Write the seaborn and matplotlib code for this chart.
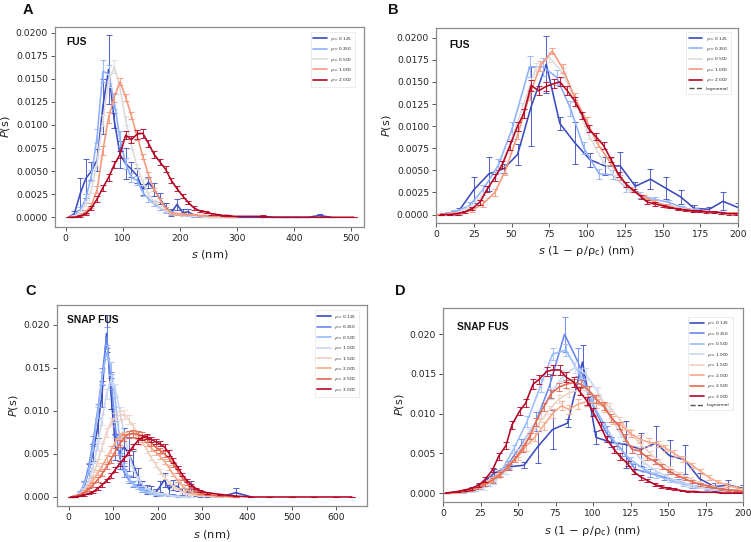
import numpy as np
import pandas as pd
import matplotlib
matplotlib.use("Agg")
import matplotlib.pyplot as plt
from matplotlib.lines import Line2D
from matplotlib.ticker import MultipleLocator
import seaborn as sns

# ---------------- Panel A (FUS, s in nm) ----------------
A_S = [5, 15, 25, 35, 45, 55, 65, 75, 85, 95, 105, 115, 125, 135, 145, 155, 165, 175, 185, 195,
       205, 215, 225, 235, 245, 255, 265, 275, 285, 295, 305, 325, 345, 365, 385, 405, 425, 445,
       465, 485, 505]
A_RHO = ["0.125", "0.250", "0.500", "1.000", "2.000"]
A_P0125 = [0.0000, 0.0004, 0.0025, 0.0042, 0.0050, 0.0062, 0.0120, 0.0160, 0.0105, 0.0068, 0.0058,
           0.0052, 0.0045, 0.0030, 0.0038, 0.0030, 0.0020, 0.0011, 0.0005, 0.0014, 0.0005, 0.0006,
           0.0002, 0.0001, 0.0001, 0.0000, 0.0000, 0.0000, 0.0000, 0.0000, 0.0000, 0.0000, 0.0000,
           0.0000, 0.0000, 0.0000, 0.0000, 0.0002, 0.0000]
A_E0125 = [0.0000, 0.0003, 0.0017, 0.0021, 0.0010, 0.0012, 0.0030, 0.0037, 0.0008, 0.0015, 0.0017,
           0.0008, 0.0008, 0.0006, 0.0006, 0.0007, 0.0006, 0.0005, 0.0004, 0.0006, 0.0004, 0.0003,
           0.0002, 0.0001, 0.0001, 0.0000, 0.0000, 0.0000, 0.0000, 0.0000, 0.0000, 0.0000, 0.0000,
           0.0000, 0.0000, 0.0000, 0.0000, 0.0002, 0.0000]
A_P025 = [0.0000, 0.0002, 0.0008, 0.0020, 0.0045, 0.0088, 0.0158, 0.0155, 0.0125, 0.0085, 0.0058,
          0.0043, 0.0040, 0.0027, 0.0020, 0.0015, 0.0010, 0.0007, 0.0005, 0.0004, 0.0003, 0.0002,
          0.0001, 0.0001, 0.0000, 0.0000]
A_E025 = [0.0000, 0.0001, 0.0003, 0.0005, 0.0006, 0.0008, 0.0012, 0.0010, 0.0008, 0.0008, 0.0006,
          0.0005, 0.0005, 0.0004, 0.0003, 0.0003, 0.0002, 0.0002, 0.0002, 0.0001, 0.0001, 0.0001,
          0.0001, 0.0001, 0.0000, 0.0000]
A_P05 = [0.0000, 0.0001, 0.0005, 0.0015, 0.0030, 0.0060, 0.0105, 0.0148, 0.0163, 0.0140, 0.0105,
         0.0078, 0.0055, 0.0038, 0.0025, 0.0017, 0.0011, 0.0007, 0.0005, 0.0003, 0.0002, 0.0002,
         0.0001, 0.0001, 0.0000, 0.0000, 0.0000, 0.0000]
A_E05 = [0.0000, 0.0001, 0.0002, 0.0003, 0.0004, 0.0005, 0.0006, 0.0007, 0.0007, 0.0006, 0.0005,
         0.0004, 0.0003, 0.0003, 0.0002, 0.0002, 0.0001, 0.0001, 0.0001, 0.0001, 0.0001, 0.0000,
         0.0000, 0.0000, 0.0000, 0.0000, 0.0000, 0.0000]
A_P10 = [0.0000, 0.0000, 0.0002, 0.0006, 0.0013, 0.0030, 0.0072, 0.0108, 0.0130, 0.0147, 0.0130,
         0.0110, 0.0088, 0.0066, 0.0046, 0.0030, 0.0019, 0.0010, 0.0005, 0.0004, 0.0004, 0.0003,
         0.0003, 0.0002, 0.0002, 0.0001, 0.0001, 0.0001, 0.0000, 0.0000]
A_E10 = [0.0000, 0.0000, 0.0001, 0.0002, 0.0003, 0.0004, 0.0005, 0.0006, 0.0005, 0.0004, 0.0004,
         0.0004, 0.0004, 0.0003, 0.0003, 0.0002, 0.0002, 0.0001, 0.0001, 0.0001, 0.0001, 0.0001,
         0.0001, 0.0001, 0.0000, 0.0000, 0.0000, 0.0000, 0.0000, 0.0000]
A_P20 = [0.0000, 0.0000, 0.0001, 0.0004, 0.0010, 0.0020, 0.0032, 0.0043, 0.0057, 0.0068, 0.0089,
         0.0084, 0.0090, 0.0091, 0.0080, 0.0068, 0.0060, 0.0052, 0.0040, 0.0031, 0.0023, 0.0016,
         0.0010, 0.0007, 0.0006, 0.0004, 0.0003, 0.0002, 0.0002, 0.0001, 0.0001, 0.0001, 0.0001,
         0.0000, 0.0000, 0.0000, 0.0000, 0.0000, 0.0000, 0.0000, 0.0000]
A_E20 = [0.0000, 0.0000, 0.0001, 0.0001, 0.0002, 0.0003, 0.0003, 0.0004, 0.0004, 0.0004, 0.0004,
         0.0004, 0.0005, 0.0005, 0.0004, 0.0004, 0.0003, 0.0003, 0.0003, 0.0003, 0.0002, 0.0002,
         0.0002, 0.0001, 0.0001, 0.0001, 0.0001, 0.0001, 0.0001, 0.0000, 0.0000, 0.0000, 0.0001,
         0.0000, 0.0000, 0.0000, 0.0000, 0.0000, 0.0000, 0.0000, 0.0000]

# ---------------- Panel B (FUS, rescaled) ----------------
B_S0125 = [3, 15, 25, 35, 45, 54, 63, 73, 82, 92, 102, 112, 122, 132, 142, 152, 162, 171, 181, 190, 200]
B_P0125 = [0.0000, 0.0004, 0.0028, 0.0046, 0.0052, 0.0068, 0.0122, 0.0170, 0.0103, 0.0081, 0.0062,
           0.0055, 0.0055, 0.0032, 0.0040, 0.0030, 0.0020, 0.0007, 0.0006, 0.0015, 0.0008]
B_E0125 = [0.0000, 0.0004, 0.0015, 0.0019, 0.0005, 0.0012, 0.0045, 0.0032, 0.0007, 0.0024, 0.0008,
           0.0010, 0.0016, 0.0005, 0.0011, 0.0012, 0.0008, 0.0004, 0.0003, 0.0010, 0.0005]
B_S025 = [3, 12, 22, 31, 41, 50, 62, 71, 80, 89, 98, 108, 117, 126, 135, 145, 154, 163, 172, 182, 191, 200]
B_P025 = [0.0000, 0.0003, 0.0010, 0.0028, 0.0055, 0.0095, 0.0167, 0.0167, 0.0155, 0.0120, 0.0075,
          0.0046, 0.0045, 0.0030, 0.0022, 0.0017, 0.0014, 0.0008, 0.0005, 0.0003, 0.0002, 0.0002]
B_E025 = [0.0000, 0.0002, 0.0004, 0.0006, 0.0008, 0.0010, 0.0012, 0.0010, 0.0008, 0.0008, 0.0007,
          0.0006, 0.0005, 0.0004, 0.0003, 0.0003, 0.0003, 0.0002, 0.0002, 0.0001, 0.0001, 0.0001]
B_S05 = [4, 13, 22, 31, 40, 48, 57, 66, 75, 84, 93, 101, 110, 119, 128, 137, 145, 154, 163, 172, 180, 189, 198]
B_P05 = [0.0000, 0.0002, 0.0008, 0.0022, 0.0045, 0.0075, 0.0120, 0.0165, 0.0178, 0.0160, 0.0125,
         0.0090, 0.0062, 0.0042, 0.0028, 0.0020, 0.0014, 0.0010, 0.0007, 0.0004, 0.0003, 0.0002, 0.0001]
B_E05 = [0.0000, 0.0001, 0.0002, 0.0003, 0.0004, 0.0005, 0.0006, 0.0006, 0.0006, 0.0006, 0.0005,
         0.0005, 0.0004, 0.0003, 0.0003, 0.0002, 0.0002, 0.0002, 0.0001, 0.0001, 0.0001, 0.0001, 0.0001]
B_S10 = [1, 8, 16, 24, 31, 39, 46, 54, 62, 69, 77, 84, 92, 100, 107, 115, 122, 130, 138, 145, 153,
         160, 168, 176, 183, 191, 198]
B_P10 = [0.0000, 0.0001, 0.0002, 0.0005, 0.0012, 0.0025, 0.0050, 0.0090, 0.0135, 0.0168, 0.0185,
         0.0165, 0.0132, 0.0105, 0.0080, 0.0060, 0.0042, 0.0028, 0.0020, 0.0014, 0.0010, 0.0007,
         0.0005, 0.0004, 0.0003, 0.0002, 0.0002]
B_E10 = [0.0000, 0.0001, 0.0001, 0.0002, 0.0003, 0.0004, 0.0005, 0.0005, 0.0006, 0.0006, 0.0003,
         0.0005, 0.0005, 0.0005, 0.0004, 0.0004, 0.0003, 0.0003, 0.0002, 0.0002, 0.0002, 0.0001,
         0.0001, 0.0001, 0.0001, 0.0001, 0.0001]
B_S20 = [3, 9, 14, 19, 24, 29, 34, 39, 44, 49, 54, 58, 63, 68, 73, 78, 82, 87, 92, 97, 101, 106,
         111, 116, 121, 126, 131, 136, 140, 145, 150, 155, 160, 165, 170, 174, 179, 184, 189, 194, 199]
B_P20 = [0.0000, 0.0000, 0.0001, 0.0003, 0.0007, 0.0014, 0.0029, 0.0042, 0.0057, 0.0078, 0.0100,
         0.0114, 0.0146, 0.0140, 0.0145, 0.0148, 0.0150, 0.0140, 0.0128, 0.0112, 0.0097, 0.0088,
         0.0078, 0.0062, 0.0045, 0.0034, 0.0027, 0.0020, 0.0014, 0.0012, 0.0010, 0.0008, 0.0006,
         0.0005, 0.0004, 0.0004, 0.0003, 0.0003, 0.0002, 0.0001, 0.0001]
B_E20 = [0.0000, 0.0000, 0.0001, 0.0001, 0.0002, 0.0003, 0.0003, 0.0004, 0.0004, 0.0005, 0.0005,
         0.0005, 0.0006, 0.0005, 0.0005, 0.0005, 0.0005, 0.0005, 0.0005, 0.0004, 0.0004, 0.0004,
         0.0004, 0.0003, 0.0003, 0.0003, 0.0002, 0.0002, 0.0002, 0.0002, 0.0001, 0.0001, 0.0001,
         0.0001, 0.0001, 0.0001, 0.0001, 0.0001, 0.0001, 0.0001, 0.0001]

# ---------------- Panel C (SNAP FUS, s in nm) ----------------
C_S = [5, 15, 25, 35, 45, 55, 65, 75, 85, 95, 105, 115, 125, 135, 145, 155, 165, 175, 185, 195,
       205, 215, 225, 235, 245, 255, 265, 275, 285, 295, 310, 340, 375, 410, 450, 500, 550, 600, 635]
C_RHO = ["0.125", "0.250", "0.500", "1.000", "1.500", "2.000", "2.500", "3.000"]
C_P0125 = [0.0000, 0.0001, 0.0004, 0.0012, 0.0030, 0.0052, 0.0080, 0.0120, 0.0190, 0.0120, 0.0058,
           0.0052, 0.0058, 0.0050, 0.0038, 0.0024, 0.0012, 0.0009, 0.0008, 0.0005, 0.0012, 0.0020,
           0.0009, 0.0014, 0.0012, 0.0006, 0.0005, 0.0012, 0.0004, 0.0002, 0.0001, 0.0000, 0.0005, 0.0000]
C_E0125 = [0.0000, 0.0001, 0.0003, 0.0005, 0.0008, 0.0010, 0.0012, 0.0015, 0.0022, 0.0018, 0.0015,
           0.0020, 0.0022, 0.0020, 0.0015, 0.0010, 0.0006, 0.0005, 0.0005, 0.0004, 0.0006, 0.0008,
           0.0005, 0.0006, 0.0005, 0.0004, 0.0004, 0.0006, 0.0003, 0.0002, 0.0001, 0.0000, 0.0005, 0.0000]
C_P025 = [0.0000, 0.0001, 0.0005, 0.0015, 0.0035, 0.0065, 0.0100, 0.0140, 0.0185, 0.0135, 0.0080,
          0.0045, 0.0028, 0.0020, 0.0015, 0.0012, 0.0010, 0.0008, 0.0006, 0.0005, 0.0004, 0.0003,
          0.0002, 0.0002, 0.0001, 0.0001, 0.0000]
C_E025 = [0.0000, 0.0001, 0.0002, 0.0004, 0.0005, 0.0006, 0.0008, 0.0010, 0.0012, 0.0010, 0.0008,
          0.0006, 0.0005, 0.0004, 0.0003, 0.0003, 0.0002, 0.0002, 0.0002, 0.0001, 0.0001, 0.0001,
          0.0001, 0.0001, 0.0000, 0.0000, 0.0000]
C_P05 = [0.0000, 0.0001, 0.0005, 0.0014, 0.0030, 0.0058, 0.0098, 0.0138, 0.0168, 0.0150, 0.0110,
         0.0065, 0.0035, 0.0022, 0.0015, 0.0011, 0.0008, 0.0006, 0.0004, 0.0003, 0.0002, 0.0002,
         0.0001, 0.0001, 0.0000, 0.0000, 0.0000]
C_E05 = [0.0000, 0.0001, 0.0002, 0.0003, 0.0004, 0.0005, 0.0006, 0.0007, 0.0008, 0.0007, 0.0006,
         0.0005, 0.0004, 0.0003, 0.0002, 0.0002, 0.0002, 0.0001, 0.0001, 0.0001, 0.0001, 0.0000,
         0.0000, 0.0000, 0.0000, 0.0000, 0.0000]
C_P10 = [0.0000, 0.0001, 0.0003, 0.0008, 0.0018, 0.0035, 0.0060, 0.0090, 0.0120, 0.0136, 0.0125,
         0.0100, 0.0072, 0.0050, 0.0033, 0.0022, 0.0015, 0.0010, 0.0007, 0.0005, 0.0004, 0.0003,
         0.0002, 0.0001, 0.0001, 0.0000, 0.0000, 0.0000]
C_E10 = [0.0000, 0.0001, 0.0002, 0.0003, 0.0004, 0.0004, 0.0005, 0.0006, 0.0006, 0.0006, 0.0006,
         0.0005, 0.0004, 0.0003, 0.0003, 0.0002, 0.0002, 0.0001, 0.0001, 0.0001, 0.0001, 0.0000,
         0.0000, 0.0000, 0.0000, 0.0000, 0.0000, 0.0000]
C_P15 = [0.0000, 0.0001, 0.0003, 0.0007, 0.0014, 0.0025, 0.0040, 0.0058, 0.0075, 0.0087, 0.0092,
         0.0095, 0.0096, 0.0090, 0.0082, 0.0073, 0.0064, 0.0055, 0.0046, 0.0038, 0.0030, 0.0023,
         0.0017, 0.0012, 0.0009, 0.0006, 0.0004, 0.0003, 0.0002, 0.0001, 0.0001, 0.0000]
C_E15 = [0.0000, 0.0001, 0.0001, 0.0002, 0.0003, 0.0004, 0.0004, 0.0005, 0.0005, 0.0005, 0.0005,
         0.0005, 0.0005, 0.0005, 0.0004, 0.0004, 0.0004, 0.0004, 0.0003, 0.0003, 0.0003, 0.0002,
         0.0002, 0.0002, 0.0001, 0.0001, 0.0001, 0.0001, 0.0000, 0.0000, 0.0000, 0.0000]
C_P20 = [0.0000, 0.0001, 0.0003, 0.0006, 0.0012, 0.0020, 0.0028, 0.0036, 0.0045, 0.0055, 0.0064,
         0.0070, 0.0072, 0.0073, 0.0073, 0.0071, 0.0068, 0.0063, 0.0057, 0.0052, 0.0047, 0.0041,
         0.0034, 0.0026, 0.0019, 0.0013, 0.0009, 0.0006, 0.0004, 0.0003, 0.0002, 0.0001, 0.0000]
C_E20 = [0.0000, 0.0001, 0.0001, 0.0002, 0.0002, 0.0003, 0.0003, 0.0004, 0.0004, 0.0004, 0.0004,
         0.0004, 0.0004, 0.0004, 0.0004, 0.0004, 0.0004, 0.0004, 0.0004, 0.0003, 0.0003, 0.0003,
         0.0003, 0.0002, 0.0002, 0.0002, 0.0001, 0.0001, 0.0001, 0.0001, 0.0000, 0.0000, 0.0000]
C_P25 = [0.0000, 0.0001, 0.0002, 0.0005, 0.0009, 0.0014, 0.0020, 0.0027, 0.0035, 0.0044, 0.0053,
         0.0062, 0.0069, 0.0073, 0.0074, 0.0073, 0.0071, 0.0068, 0.0063, 0.0058, 0.0054, 0.0050,
         0.0045, 0.0038, 0.0030, 0.0022, 0.0016, 0.0011, 0.0007, 0.0005, 0.0003, 0.0001, 0.0000]
C_E25 = [0.0000, 0.0000, 0.0001, 0.0001, 0.0002, 0.0002, 0.0003, 0.0003, 0.0003, 0.0004, 0.0004,
         0.0004, 0.0004, 0.0004, 0.0004, 0.0004, 0.0004, 0.0004, 0.0004, 0.0003, 0.0003, 0.0003,
         0.0003, 0.0003, 0.0002, 0.0002, 0.0002, 0.0001, 0.0001, 0.0001, 0.0001, 0.0000, 0.0000]
C_P30 = [0.0000, 0.0000, 0.0001, 0.0002, 0.0004, 0.0006, 0.0010, 0.0014, 0.0019, 0.0025, 0.0032,
         0.0039, 0.0045, 0.0052, 0.0059, 0.0065, 0.0069, 0.0070, 0.0067, 0.0064, 0.0062, 0.0058,
         0.0051, 0.0042, 0.0034, 0.0026, 0.0019, 0.0014, 0.0010, 0.0007, 0.0005, 0.0003, 0.0001,
         0.0000, 0.0000, 0.0000, 0.0000, 0.0000, 0.0000]
C_E30 = [0.0000, 0.0000, 0.0000, 0.0001, 0.0001, 0.0001, 0.0002, 0.0002, 0.0002, 0.0003, 0.0003,
         0.0003, 0.0003, 0.0003, 0.0003, 0.0003, 0.0003, 0.0003, 0.0003, 0.0003, 0.0003, 0.0003,
         0.0003, 0.0003, 0.0002, 0.0002, 0.0002, 0.0001, 0.0001, 0.0001, 0.0001, 0.0001, 0.0000,
         0.0000, 0.0000, 0.0000, 0.0000, 0.0000, 0.0000]

# ---------------- Panel D (SNAP FUS, rescaled) ----------------
D_S0125 = [4, 14, 24, 34, 44, 54, 63, 73, 83, 93, 102, 112, 122, 132, 142, 151, 161, 171, 181, 190, 200]
D_P0125 = [0.0000, 0.0002, 0.0008, 0.0025, 0.0033, 0.0035, 0.0058, 0.0080, 0.0088, 0.0165, 0.0070,
           0.0064, 0.0061, 0.0055, 0.0063, 0.0047, 0.0042, 0.0018, 0.0008, 0.0010, 0.0006]
D_E0125 = [0.0000, 0.0001, 0.0003, 0.0005, 0.0004, 0.0004, 0.0020, 0.0025, 0.0005, 0.0022, 0.0008,
           0.0006, 0.0030, 0.0021, 0.0021, 0.0020, 0.0018, 0.0007, 0.0005, 0.0006, 0.0004]
D_S025 = [5, 14, 24, 33, 43, 52, 62, 71, 81, 90, 100, 109, 119, 128, 138, 147, 157, 166, 176, 185, 195]
D_P025 = [0.0000, 0.0002, 0.0007, 0.0018, 0.0035, 0.0060, 0.0090, 0.0135, 0.0200, 0.0165, 0.0110,
          0.0075, 0.0055, 0.0030, 0.0025, 0.0020, 0.0015, 0.0009, 0.0006, 0.0004, 0.0003]
D_E025 = [0.0000, 0.0001, 0.0002, 0.0004, 0.0005, 0.0008, 0.0012, 0.0015, 0.0022, 0.0018, 0.0012,
          0.0010, 0.0008, 0.0006, 0.0005, 0.0004, 0.0003, 0.0003, 0.0002, 0.0002, 0.0002]
D_S05 = [4, 13, 21, 30, 39, 47, 56, 65, 73, 82, 91, 99, 108, 116, 125, 134, 142, 151, 160, 168, 177, 185, 194]
D_P05 = [0.0000, 0.0001, 0.0004, 0.0012, 0.0028, 0.0055, 0.0090, 0.0135, 0.0175, 0.0180, 0.0150,
         0.0115, 0.0085, 0.0060, 0.0042, 0.0030, 0.0022, 0.0016, 0.0011, 0.0008, 0.0005, 0.0004, 0.0003]
D_E05 = [0.0000, 0.0001, 0.0002, 0.0003, 0.0004, 0.0005, 0.0007, 0.0008, 0.0008, 0.0008, 0.0007,
         0.0006, 0.0005, 0.0004, 0.0004, 0.0003, 0.0003, 0.0002, 0.0002, 0.0002, 0.0001, 0.0001, 0.0001]
D_S10 = [4, 11, 19, 27, 34, 42, 50, 57, 65, 72, 80, 88, 95, 103, 111, 118, 126, 133, 141, 149, 156,
         164, 172, 179, 187, 194]
D_P10 = [0.0000, 0.0001, 0.0002, 0.0006, 0.0014, 0.0028, 0.0050, 0.0075, 0.0100, 0.0125, 0.0148,
         0.0158, 0.0150, 0.0128, 0.0100, 0.0075, 0.0055, 0.0040, 0.0029, 0.0021, 0.0015, 0.0010,
         0.0007, 0.0005, 0.0003, 0.0002]
D_E10 = [0.0000, 0.0001, 0.0001, 0.0002, 0.0003, 0.0004, 0.0005, 0.0006, 0.0006, 0.0007, 0.0007,
         0.0007, 0.0007, 0.0006, 0.0006, 0.0005, 0.0004, 0.0004, 0.0003, 0.0003, 0.0002, 0.0002,
         0.0001, 0.0001, 0.0001, 0.0001]
D_S15 = [3, 10, 17, 24, 30, 37, 44, 50, 57, 64, 71, 77, 84, 91, 97, 104, 111, 118, 124, 131, 138,
         144, 151, 158, 165, 171, 178, 185, 192, 198]
D_P15 = [0.0000, 0.0001, 0.0003, 0.0007, 0.0013, 0.0022, 0.0035, 0.0050, 0.0068, 0.0088, 0.0105,
         0.0118, 0.0126, 0.0130, 0.0128, 0.0120, 0.0108, 0.0092, 0.0077, 0.0063, 0.0050, 0.0040,
         0.0031, 0.0024, 0.0018, 0.0013, 0.0009, 0.0006, 0.0004, 0.0003]
D_E15 = [0.0000, 0.0001, 0.0001, 0.0002, 0.0003, 0.0003, 0.0004, 0.0004, 0.0005, 0.0005, 0.0005,
         0.0005, 0.0005, 0.0005, 0.0005, 0.0005, 0.0005, 0.0004, 0.0004, 0.0004, 0.0003, 0.0003,
         0.0003, 0.0002, 0.0002, 0.0002, 0.0001, 0.0001, 0.0001, 0.0001]
D_S20 = [3, 9, 15, 20, 26, 32, 38, 44, 50, 55, 61, 67, 73, 79, 84, 90, 96, 102, 108, 113, 119, 125,
         131, 137, 143, 148, 154, 160, 166, 172, 177, 183, 189, 195, 200]
D_P20 = [0.0000, 0.0001, 0.0003, 0.0006, 0.0011, 0.0017, 0.0025, 0.0035, 0.0046, 0.0058, 0.0070,
         0.0085, 0.0100, 0.0110, 0.0105, 0.0112, 0.0115, 0.0113, 0.0108, 0.0092, 0.0085, 0.0075,
         0.0068, 0.0064, 0.0062, 0.0057, 0.0050, 0.0043, 0.0035, 0.0027, 0.0020, 0.0014, 0.0010,
         0.0007, 0.0005]
D_E20 = [0.0000, 0.0001, 0.0001, 0.0002, 0.0002, 0.0003, 0.0003, 0.0004, 0.0004, 0.0005, 0.0005,
         0.0005, 0.0006, 0.0006, 0.0006, 0.0006, 0.0006, 0.0006, 0.0006, 0.0005, 0.0005, 0.0005,
         0.0005, 0.0005, 0.0004, 0.0004, 0.0004, 0.0004, 0.0003, 0.0003, 0.0003, 0.0002, 0.0002,
         0.0002, 0.0001]
D_S25 = [3, 8, 13, 18, 23, 28, 33, 38, 43, 48, 53, 58, 62, 67, 72, 77, 82, 87, 92, 97, 102, 107,
         112, 117, 121, 126, 131, 136, 141, 146, 151, 156, 161, 166, 171, 176, 180, 185, 190, 195, 200]
D_P25 = [0.0000, 0.0001, 0.0002, 0.0004, 0.0007, 0.0011, 0.0016, 0.0023, 0.0032, 0.0043, 0.0056,
         0.0072, 0.0090, 0.0108, 0.0125, 0.0133, 0.0137, 0.0139, 0.0137, 0.0130, 0.0118, 0.0110,
         0.0095, 0.0085, 0.0070, 0.0055, 0.0053, 0.0045, 0.0040, 0.0033, 0.0027, 0.0022, 0.0018,
         0.0014, 0.0011, 0.0009, 0.0007, 0.0005, 0.0004, 0.0003, 0.0002]
D_E25 = [0.0000, 0.0000, 0.0001, 0.0001, 0.0002, 0.0002, 0.0003, 0.0003, 0.0003, 0.0004, 0.0004,
         0.0004, 0.0005, 0.0005, 0.0005, 0.0005, 0.0005, 0.0005, 0.0005, 0.0005, 0.0005, 0.0005,
         0.0005, 0.0004, 0.0004, 0.0004, 0.0004, 0.0003, 0.0003, 0.0003, 0.0003, 0.0002, 0.0002,
         0.0002, 0.0002, 0.0001, 0.0001, 0.0001, 0.0001, 0.0001, 0.0001]
D_S30 = [1.5, 6, 10, 15, 19, 24, 28, 33, 37, 42, 46, 51, 55, 60, 64, 69, 73, 78, 82, 87, 91, 96,
         100, 105, 109, 114, 118, 123, 127, 132, 136, 141, 145, 150, 154, 159, 163, 168, 172, 177,
         181, 186, 190, 195, 199]
D_P30 = [0.0000, 0.0001, 0.0002, 0.0004, 0.0006, 0.0010, 0.0017, 0.0029, 0.0046, 0.0060, 0.0086,
         0.0103, 0.0113, 0.0137, 0.0143, 0.0153, 0.0155, 0.0155, 0.0146, 0.0140, 0.0128, 0.0116,
         0.0102, 0.0084, 0.0068, 0.0055, 0.0046, 0.0037, 0.0027, 0.0020, 0.0016, 0.0011, 0.0008,
         0.0006, 0.0005, 0.0003, 0.0002, 0.0002, 0.0001, 0.0001, 0.0001, 0.0000, 0.0000, 0.0000, 0.0000]
D_E30 = [0.0000, 0.0000, 0.0001, 0.0001, 0.0002, 0.0002, 0.0003, 0.0003, 0.0004, 0.0004, 0.0005,
         0.0005, 0.0005, 0.0006, 0.0006, 0.0006, 0.0006, 0.0006, 0.0006, 0.0006, 0.0005, 0.0005,
         0.0005, 0.0005, 0.0004, 0.0004, 0.0004, 0.0003, 0.0003, 0.0003, 0.0002, 0.0002, 0.0002,
         0.0001, 0.0001, 0.0001, 0.0001, 0.0001, 0.0000, 0.0000, 0.0000, 0.0000, 0.0000, 0.0000, 0.0000]

# ---------------- style ----------------
sns.set_theme(style="white")
plt.rcParams["font.family"] = ["DejaVu Sans"]
plt.rcParams["mathtext.fontset"] = "dejavusans"

cmap = sns.color_palette("coolwarm", as_cmap=True)
COLORS5 = [cmap(v) for v in np.linspace(0, 1, 5)]
COLORS8 = [cmap(v) for v in np.linspace(0, 1, 8)]

fig = plt.figure(figsize=(7.51, 5.42), dpi=100)
axA = fig.add_axes([0.0732, 0.5812, 0.4115, 0.3690])
axB = fig.add_axes([0.5806, 0.5886, 0.4021, 0.3598])
axC = fig.add_axes([0.0759, 0.0664, 0.4128, 0.3708])
axD = fig.add_axes([0.5899, 0.0738, 0.3995, 0.3579])

SPINE = "#8c8c8c"


def draw_series(ax, xs, ps, es, color):
    n = min(len(xs), len(ps))
    df = pd.DataFrame({"s": xs[:n], "P": ps[:n]})
    sns.lineplot(data=df, x="s", y="P", ax=ax, color=color, lw=1.15,
                 estimator=None, sort=False, legend=False)
    m = min(n, len(es))
    ax.errorbar(xs[:m], ps[:m], yerr=es[:m], fmt="none", ecolor=color,
                elinewidth=0.75, capsize=2.0, capthick=0.75, alpha=0.85)


def style_axis(ax, xlabel, xlim, ylim, ymajor, xmajor, title, tx, ty, rhos, colors,
               lognormal, legbox):
    ax.set_xlim(*xlim)
    ax.set_ylim(*ylim)
    ax.yaxis.set_major_locator(MultipleLocator(ymajor))
    ax.xaxis.set_major_locator(MultipleLocator(xmajor))
    for sp in ax.spines.values():
        sp.set_color(SPINE)
        sp.set_linewidth(0.9)
    ax.tick_params(axis="both", which="major", direction="out", length=3, width=0.7,
                   color="#555555", labelsize=6.6, labelcolor="#222222", pad=2,
                   left=True, bottom=True)
    ax.set_xlabel(xlabel, fontsize=8.2, color="#222222", labelpad=4)
    ax.set_ylabel("$P$(s)", fontsize=8.2, color="#222222", labelpad=3)
    ax.text(tx, ty, title, transform=ax.transAxes, ha="left", va="top",
            fontsize=7.4, fontweight="bold", family="Liberation Sans", color="#111111")
    handles = [Line2D([0], [0], color=c, lw=1.2) for c in colors]
    labels = [r"$\rho = $" + r for r in rhos]
    if lognormal:
        handles.append(Line2D([0], [0], color="#555555", lw=1.0, ls="--"))
        labels.append("Lognormal")
    leg = ax.legend(handles, labels, loc="upper right", bbox_to_anchor=legbox,
                    fontsize=3.2, frameon=True, handlelength=3.0, handletextpad=0.8,
                    labelspacing=0.55, borderpad=0.6, borderaxespad=0.0, fancybox=False)
    leg.get_frame().set_edgecolor("#dddddd")
    leg.get_frame().set_linewidth(0.5)


# Panel A
A_SERIES = [(A_P0125, A_E0125), (A_P025, A_E025), (A_P05, A_E05), (A_P10, A_E10), (A_P20, A_E20)]
for (p, e), c in zip(A_SERIES, COLORS5):
    draw_series(axA, A_S, p, e, c)
style_axis(axA, "$s$ (nm)", (-19, 523), (-0.00105, 0.0206), 0.0025, 100, "FUS", 0.038, 0.95,
           A_RHO, COLORS5, False, (0.972, 0.975))

# Panel B
B_SERIES = [(B_S0125, B_P0125, B_E0125), (B_S025, B_P025, B_E025), (B_S05, B_P05, B_E05),
            (B_S10, B_P10, B_E10), (B_S20, B_P20, B_E20)]
for (s, p, e), c in zip(B_SERIES, COLORS5):
    draw_series(axB, s, p, e, c)
style_axis(axB, "$s$ (1 \u2212 \u03c1/\u03c1$_\\mathrm{c}$) (nm)", (0, 200), (-0.00095, 0.0211),
           0.0025, 25, "FUS", 0.043, 0.94, A_RHO, COLORS5, True, (0.977, 0.98))

# Panel C
C_SERIES = [(C_P0125, C_E0125), (C_P025, C_E025), (C_P05, C_E05), (C_P10, C_E10),
            (C_P15, C_E15), (C_P20, C_E20), (C_P25, C_E25), (C_P30, C_E30)]
for (p, e), c in zip(C_SERIES, COLORS8):
    draw_series(axC, C_S, p, e, c)
style_axis(axC, "$s$ (nm)", (-26, 669), (-0.00105, 0.0223), 0.005, 100, "SNAP FUS", 0.032, 0.95,
           C_RHO, COLORS8, False, (0.975, 0.975))

# Panel D
D_SERIES = [(D_S0125, D_P0125, D_E0125), (D_S025, D_P025, D_E025), (D_S05, D_P05, D_E05),
            (D_S10, D_P10, D_E10), (D_S15, D_P15, D_E15), (D_S20, D_P20, D_E20),
            (D_S25, D_P25, D_E25), (D_S30, D_P30, D_E30)]
for (s, p, e), c in zip(D_SERIES, COLORS8):
    draw_series(axD, s, p, e, c)
style_axis(axD, "$s$ (1 \u2212 \u03c1/\u03c1$_\\mathrm{c}$) (nm)", (0, 200), (-0.00113, 0.0233),
           0.005, 25, "SNAP FUS", 0.047, 0.93, C_RHO, COLORS8, True, (0.965, 0.955))

# panel letters
for letter, x, y in [("A", 23, 3), ("B", 388, 3), ("C", 25, 284), ("D", 395, 284)]:
    fig.text(x / 751, 1 - y / 542, letter, ha="left", va="top", fontsize=10.5,
             fontweight="bold", family="Liberation Sans", color="#111111")

fig.savefig("out.png", dpi=100)
